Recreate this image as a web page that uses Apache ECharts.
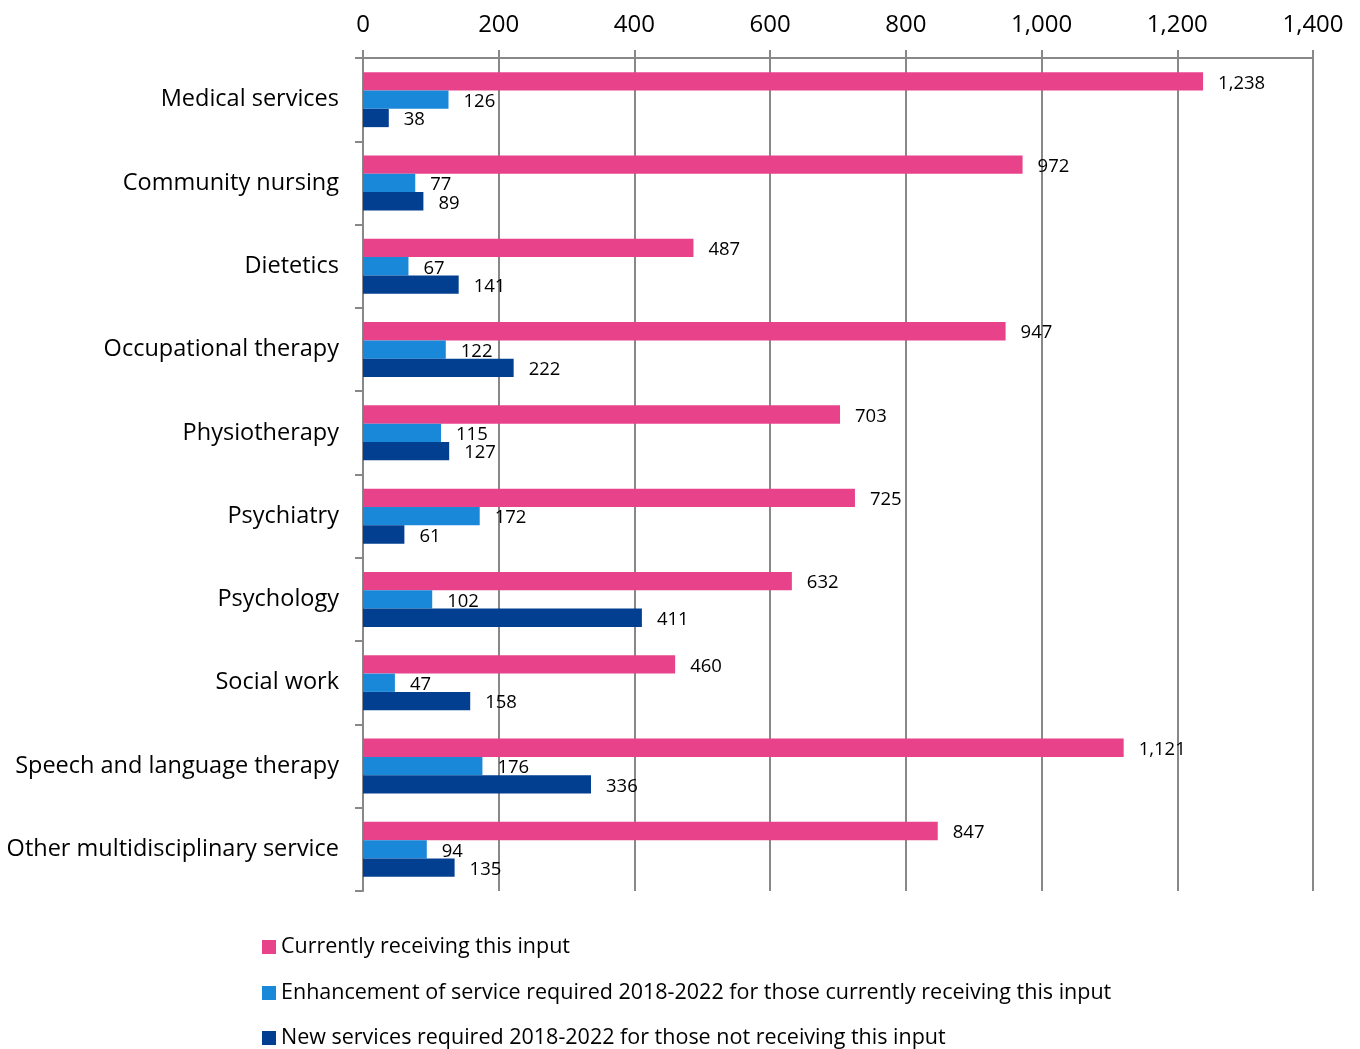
<!DOCTYPE html>
<html><head><meta charset="utf-8">
<script src="https://cdn.jsdelivr.net/npm/echarts@6/dist/echarts.min.js"></script>
<style>html,body{margin:0;padding:0;background:#fff}#c{width:1360px;height:1049px}</style>
</head><body><div id="c"></div>
<script>
const categories = ["Medical services","Community nursing","Dietetics","Occupational therapy","Physiotherapy","Psychiatry","Psychology","Social work","Speech and language therapy","Other multidisciplinary service"];
const currentlyReceiving = [1238,972,487,947,703,725,632,460,1121,847];
const enhancementRequired = [126,77,67,122,115,172,102,47,176,94];
const newServicesRequired = [38,89,141,222,127,61,411,158,336,135];
const seriesNames = ["Currently receiving this input","Enhancement of service required 2018-2022 for those currently receiving this input","New services required 2018-2022 for those not receiving this input"];
const font = "'Open Sans', sans-serif";
const chart = echarts.init(document.getElementById('c'));
const lbl = {show:true, position:'right', distance:15, offset:[0,2], color:'#000', fontSize:18.5, fontFamily:font,
  formatter: p => p.value.toLocaleString('en-US')};
function mk(name, data, color){
  return {name, type:'bar', data, barGap:'0%', barCategoryGap:'34%',
    itemStyle:{color}, label:lbl, animation:false};
}
const legendTops = [936, 982, 1027];
chart.setOption({
  animation:false,
  grid:{left:363, right:47, top:58, bottom:158},
  xAxis:{type:'value', position:'top', min:0, max:1400, interval:200,
    axisLine:{show:true, lineStyle:{color:'#888', width:2}},
    axisTick:{show:true, length:8, lineStyle:{color:'#888', width:2}},
    splitLine:{show:true, lineStyle:{color:'#888', width:2}},
    axisLabel:{color:'#000', fontSize:24, fontFamily:font, margin:21,
      formatter: v => v.toLocaleString('en-US')}},
  yAxis:{type:'category', data:categories, inverse:true,
    axisLine:{show:true, lineStyle:{color:'#888', width:2}},
    axisTick:{show:true, length:8, lineStyle:{color:'#888', width:2}},
    axisLabel:{color:'#000', fontSize:23.5, fontFamily:font, margin:24, padding:[4,0,0,0]}},
  legend: seriesNames.map((n, i) => ({orient:'vertical', left:262, top:legendTops[i], padding:0,
    itemWidth:14, itemHeight:14, itemGap:6, icon:'rect',
    textStyle:{color:'#000', fontSize:21.5, fontFamily:font, padding:[0,0,0,0]},
    data:[n]})),
  series:[
    mk(seriesNames[0], currentlyReceiving, '#E8438A'),
    mk(seriesNames[1], enhancementRequired, '#1A88D8'),
    mk(seriesNames[2], newServicesRequired, '#023F91')
  ]
});
</script></body></html>
